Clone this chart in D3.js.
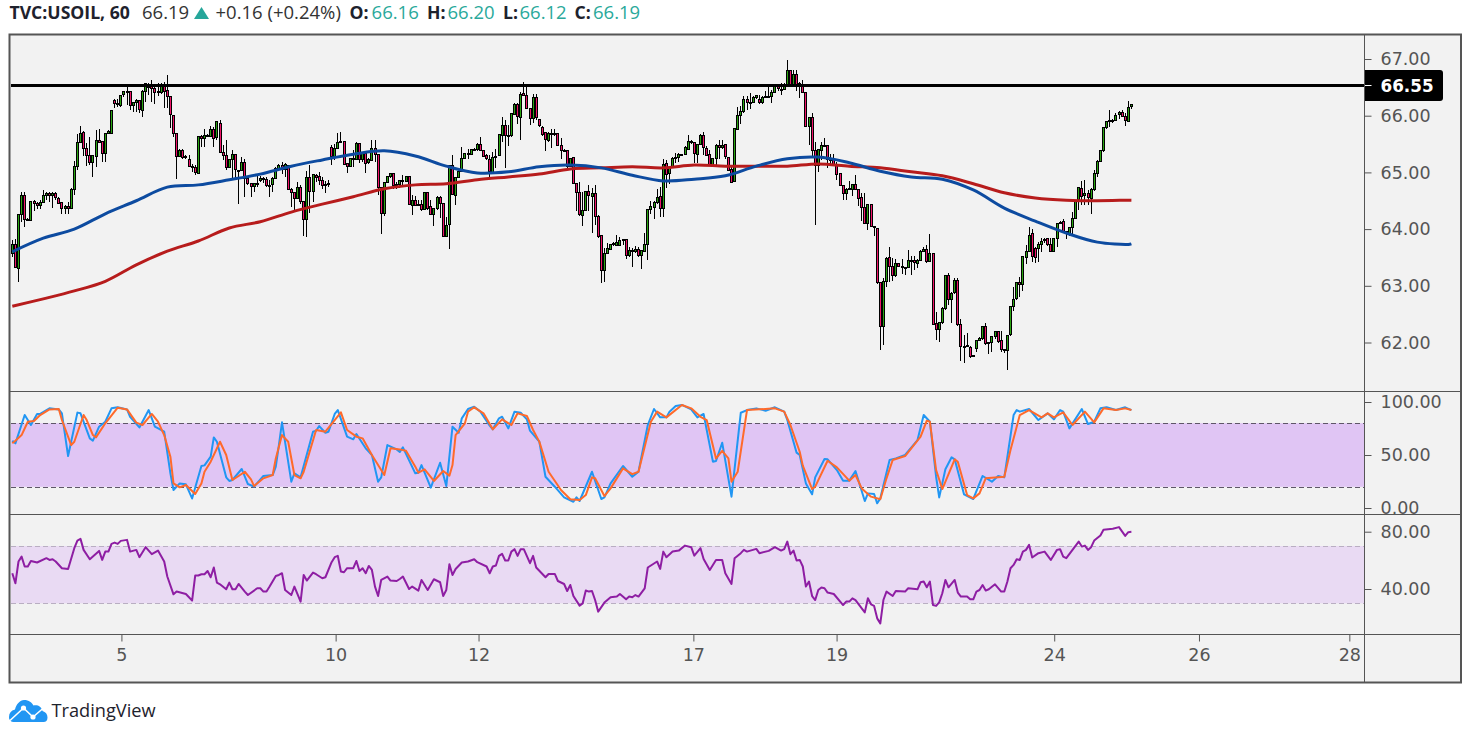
<!doctype html>
<html lang="en">
<head>
<meta charset="UTF-8">
<title>TVC:USOIL, 60</title>
<style>
  html, body { margin: 0; padding: 0; background: #fff; }
  svg { display: block; }
  .axis text { font-family: "DejaVu Sans", sans-serif; font-size: 17.5px; fill: #555; }
  .axis line { stroke: #555; }
  .head { font-family: "Open Sans", sans-serif; font-size: 18.5px; }
  .head.strong { font-size: 17.6px; font-weight: bold; }
</style>
</head>
<body>
<div id="chart"></div>
<script src="https://d3js.org/d3.v7.min.js"></script>
<script>
// values
const priceTicks = [62, 63, 64, 65, 66, 67]
const stochTicks = [0, 50, 100]
const rsiTicks = [40, 80]
const dayTicks = [35.2, 104.3, 150.4, 219.7, 265.9, 336.1, 382.8, 431.3]
const dayLabels = ['5', '10', '12', '17', '19', '24', '26', '28']
const levelPrice = 66.55
const stochBand = [20, 80]
const rsiBand = [30, 70]

// open, high, low, close per hourly bar
const ohlc = [
[63.57,63.80,63.51,63.72],[63.72,63.83,63.32,63.32],[63.30,64.26,63.07,64.26],[64.26,64.66,64.13,64.60],[64.60,64.66,64.03,64.17],[64.17,64.20,64.15,64.16],[64.16,64.50,64.15,64.49],[64.49,64.51,64.32,64.45],[64.45,64.48,64.36,64.42],[64.42,64.51,64.35,64.47],
[64.47,64.69,64.46,64.60],[64.60,64.66,64.51,64.63],[64.63,64.66,64.48,64.60],[64.60,64.66,64.38,64.63],[64.63,64.66,64.51,64.56],[64.54,64.56,64.44,64.46],[64.47,64.48,64.27,64.36],[64.36,64.42,64.26,64.39],[64.39,64.48,64.27,64.36],[64.36,64.73,64.35,64.70],
[64.70,65.20,64.60,65.11],[65.11,65.67,65.05,65.53],[65.53,65.82,65.52,65.69],[65.71,65.73,65.29,65.42],[65.42,65.51,65.11,65.29],[65.29,65.63,65.13,65.16],[65.16,65.30,64.92,65.29],[65.29,65.74,65.10,65.57],[65.57,65.76,65.52,65.54],[65.54,65.55,65.19,65.33],
[65.33,65.69,65.19,65.69],[65.69,65.74,65.67,65.72],[65.70,66.10,65.70,66.10],[66.27,66.30,66.14,66.22],[66.22,66.29,66.16,66.20],[66.19,66.36,66.16,66.36],[66.36,66.44,66.33,66.42],[66.42,66.52,66.19,66.41],[66.43,66.43,66.10,66.18],[66.18,66.24,66.07,66.23],
[66.23,66.30,66.07,66.26],[66.26,66.28,66.05,66.10],[66.10,66.46,65.98,66.43],[66.43,66.58,66.24,66.57],[66.50,66.58,66.36,66.55],[66.55,66.63,66.24,66.48],[66.48,66.51,66.21,66.41],[66.41,66.57,66.34,66.42],[66.41,66.57,66.39,66.52],[66.52,66.60,66.14,66.44],
[66.44,66.72,66.13,66.33],[66.33,66.33,65.79,66.01],[66.01,66.01,65.62,65.69],[65.69,65.69,64.89,65.29],[65.29,65.41,65.27,65.39],[65.39,65.41,65.24,65.27],[65.27,65.30,65.24,65.28],[65.23,65.30,65.09,65.10],[65.10,65.15,65.01,65.08],[65.08,65.13,64.95,64.99],
[64.99,65.64,64.98,65.64],[65.64,65.66,65.45,65.60],[65.60,65.77,65.45,65.65],[65.65,65.67,65.62,65.64],[65.64,65.82,65.62,65.76],[65.76,65.80,65.45,65.60],[65.60,65.90,65.57,65.89],[65.87,65.93,65.35,65.35],[65.35,65.48,65.22,65.29],[65.29,65.57,65.04,65.08],
[65.08,65.22,65.07,65.22],[65.22,65.39,64.86,65.31],[65.31,65.31,64.86,65.04],[65.04,65.05,64.45,65.03],[65.03,65.27,65.02,65.17],[65.17,65.23,64.57,64.89],[64.89,64.89,64.78,64.80],[64.80,64.81,64.57,64.74],[64.74,64.81,64.66,64.80],[64.80,64.95,64.75,64.81],
[64.87,64.93,64.83,64.90],[64.89,64.92,64.82,64.89],[64.87,64.92,64.75,64.77],[64.77,64.86,64.57,64.76],[64.78,64.92,64.66,64.89],[64.89,65.09,64.88,65.07],[65.07,65.14,65.05,65.12],[65.12,65.19,64.97,65.05],[65.05,65.16,64.92,65.14],[65.12,65.12,64.69,64.70],
[64.70,64.72,64.39,64.64],[64.64,64.66,64.33,64.54],[64.54,64.83,64.54,64.73],[64.73,64.78,64.45,64.48],[64.48,64.48,63.87,64.17],[64.17,65.03,63.86,64.91],[64.91,65.13,64.29,64.66],[64.66,64.98,64.48,64.96],[64.95,64.97,64.83,64.91],[64.92,65.01,64.77,64.85],
[64.85,64.92,64.71,64.77],[64.77,64.85,64.64,64.79],[64.79,64.86,64.75,64.81],[65.44,65.49,65.13,65.29],[65.29,65.50,65.22,65.43],[65.43,65.69,65.42,65.53],[65.53,65.71,65.52,65.55],[65.55,65.56,65.14,65.14],[65.16,65.17,64.99,65.11],[65.10,65.25,65.09,65.24],
[65.24,65.39,65.10,65.25],[65.23,65.53,65.22,65.51],[65.51,65.51,65.17,65.23],[65.23,65.34,65.19,65.33],[65.33,65.36,64.99,65.16],[65.16,65.25,65.14,65.22],[65.20,65.57,65.20,65.42],[65.42,65.57,65.19,65.32],[65.32,65.32,64.61,64.73],[64.73,64.75,63.91,64.27],
[64.28,64.82,64.23,64.82],[64.82,64.92,64.81,64.92],[64.92,64.98,64.91,64.98],[64.98,64.98,64.70,64.77],[64.77,64.83,64.70,64.78],[64.78,64.86,64.72,64.85],[64.85,64.95,64.77,64.86],[64.85,64.94,64.84,64.93],[64.93,64.93,64.42,64.43],[64.43,64.60,64.24,64.51],
[64.51,64.58,64.42,64.43],[64.43,64.52,64.40,64.44],[64.44,64.51,64.32,64.35],[64.35,64.65,64.33,64.65],[64.65,64.66,64.33,64.36],[64.40,64.51,64.25,64.26],[64.26,64.38,64.06,64.36],[64.36,64.58,64.34,64.56],[64.56,64.58,64.19,64.46],[64.46,64.46,63.86,63.87],
[63.87,64.22,63.86,64.06],[64.08,65.12,63.65,65.12],[65.12,65.30,64.60,64.60],[64.60,64.91,64.42,64.91],[64.91,65.04,64.90,65.01],[65.01,65.44,65.00,65.24],[65.24,65.34,65.23,65.33],[65.33,65.42,65.24,65.32],[65.32,65.42,65.30,65.40],[65.40,65.43,65.38,65.41],
[65.40,65.51,65.38,65.49],[65.49,65.62,65.38,65.38],[65.39,65.40,65.29,65.29],[65.29,65.33,65.22,65.23],[65.23,65.31,64.92,65.01],[65.01,65.36,64.99,65.27],[65.27,65.42,65.07,65.28],[65.29,65.66,65.29,65.66],[65.66,65.98,65.54,65.83],[65.83,65.92,65.07,65.65],
[65.65,65.83,65.46,65.65],[65.65,66.04,65.62,66.03],[66.01,66.22,66.01,66.19],[66.19,66.22,65.85,65.98],[65.98,66.41,65.57,66.38],[66.40,66.59,66.34,66.36],[66.36,66.51,66.11,66.13],[66.13,66.13,65.83,65.95],[65.95,66.39,65.87,66.32],[66.32,66.39,65.93,65.97],
[65.93,65.95,65.80,65.83],[65.79,65.82,65.64,65.66],[65.70,65.71,65.38,65.57],[65.57,65.71,65.54,65.69],[65.69,65.77,65.43,65.67],[65.67,65.76,65.64,65.68],[65.68,65.69,65.46,65.47],[65.47,65.60,65.23,65.39],[65.39,65.42,65.37,65.39],[65.39,65.39,65.07,65.10],
[65.10,65.25,65.09,65.24],[65.26,65.26,64.79,64.80],[64.80,64.80,64.32,64.64],[64.64,64.83,64.23,64.25],[64.25,64.65,64.06,64.33],[64.33,64.68,64.32,64.67],[64.67,64.77,64.32,64.60],[64.57,64.72,63.93,64.63],[64.63,64.78,64.07,64.23],[64.23,64.24,63.85,63.88],
[63.88,63.88,63.05,63.27],[63.27,63.66,63.07,63.57],[63.57,63.76,63.56,63.65],[63.65,63.74,63.63,63.73],[63.73,63.77,63.70,63.75],[63.72,63.89,63.70,63.77],[63.71,63.86,63.70,63.80],[63.80,63.83,63.72,63.81],[63.82,63.82,63.47,63.53],[63.53,63.69,63.51,63.62],
[63.62,63.66,63.34,63.60],[63.60,63.70,63.58,63.64],[63.64,63.69,63.51,63.54],[63.54,63.64,63.29,63.63],[63.61,63.93,63.60,63.73],[63.73,64.36,63.45,64.35],[64.35,64.50,64.27,64.40],[64.39,64.50,64.18,64.47],[64.47,64.70,64.45,64.56],[64.58,64.74,64.22,64.36],
[64.36,65.23,64.22,65.14],[65.16,65.22,64.73,64.96],[64.98,65.11,64.79,65.09],[65.09,65.28,65.07,65.24],[65.24,65.34,65.16,65.26],[65.26,65.34,65.19,65.31],[65.31,65.33,65.29,65.31],[65.31,65.46,65.30,65.44],[65.40,65.66,65.39,65.54],[65.54,65.57,65.50,65.53],
[65.53,65.54,65.16,65.33],[65.33,65.50,65.16,65.50],[65.50,65.67,65.48,65.65],[65.65,65.71,65.30,65.43],[65.43,65.46,65.29,65.30],[65.31,65.40,65.11,65.12],[65.12,65.25,65.11,65.24],[65.24,65.50,65.09,65.47],[65.47,65.58,65.24,65.44],[65.44,65.57,65.41,65.48],
[65.49,65.49,65.24,65.27],[65.27,65.27,65.03,65.04],[65.05,65.11,64.81,64.82],[64.84,65.77,64.83,65.77],[65.76,66.16,65.75,66.01],[66.01,66.17,65.85,66.08],[66.06,66.35,66.04,66.28],[66.28,66.34,66.10,66.23],[66.23,66.40,66.11,66.24],[66.24,66.34,66.22,66.32],
[66.32,66.36,66.30,66.36],[66.29,66.37,66.21,66.23],[66.23,66.34,66.21,66.32],[66.32,66.44,66.31,66.33],[66.33,66.51,66.32,66.34],[66.34,66.45,66.23,66.41],[66.41,66.53,66.40,66.51],[66.51,66.54,66.43,66.47],[66.47,66.57,66.37,66.46],[66.47,66.57,66.45,66.55],
[66.55,66.98,66.54,66.80],[66.80,66.81,66.55,66.56],[66.56,66.81,66.55,66.73],[66.73,66.81,66.43,66.55],[66.55,66.60,66.31,66.56],[66.55,66.63,66.41,66.41],[66.41,66.41,65.80,65.81],[65.81,65.96,65.48,65.96],[65.96,66.05,65.27,65.38],[65.38,65.54,64.07,65.11],
[65.11,65.40,65.00,65.40],[65.38,65.54,65.22,65.47],[65.47,65.60,65.45,65.46],[65.48,65.48,65.07,65.23],[65.23,65.33,65.13,65.22],[65.23,65.33,65.11,65.13],[65.13,65.19,64.87,64.97],[64.98,64.98,64.76,64.77],[64.77,64.78,64.51,64.63],[64.63,64.72,64.51,64.70],
[64.70,64.84,64.69,64.71],[64.70,64.79,64.58,64.78],[64.78,64.95,64.69,64.70],[64.70,64.71,64.41,64.55],[64.55,64.63,64.15,64.37],[64.38,64.63,64.09,64.09],[64.09,64.43,63.98,64.43],[64.43,64.45,64.04,64.04],[64.04,64.05,63.88,64.03],[64.01,64.01,63.03,63.05],
[63.05,63.05,61.86,62.28],[62.28,63.13,61.96,63.07],[63.07,63.50,62.98,63.48],[63.50,63.69,63.07,63.34],[63.34,63.49,63.09,63.18],[63.18,63.47,63.16,63.40],[63.40,63.41,63.33,63.34],[63.34,63.47,63.21,63.33],[63.33,63.34,63.19,63.32],[63.32,63.63,63.31,63.44],
[63.44,63.52,63.19,63.45],[63.44,63.52,63.28,63.40],[63.40,63.47,63.31,63.45],[63.45,63.63,63.44,63.61],[63.61,63.69,63.60,63.64],[63.64,63.72,63.41,63.43],[63.43,63.91,63.42,63.57],[63.57,63.57,62.30,62.32],[62.33,62.54,62.05,62.23],[62.23,62.36,62.01,62.35],
[62.35,62.62,62.32,62.60],[62.60,63.19,62.58,63.18],[63.18,63.22,62.66,62.76],[62.76,62.89,62.34,62.87],[62.87,63.13,62.85,63.09],[63.09,63.13,62.29,62.31],[62.31,62.42,61.68,61.93],[61.93,62.13,61.64,61.92],[61.92,62.16,61.92,61.94],[61.92,61.93,61.72,61.77],
[61.77,61.78,61.76,61.77],[61.90,62.04,61.84,62.04],[62.04,62.09,62.03,62.07],[62.07,62.29,62.05,62.28],[62.28,62.34,61.95,61.98],[61.98,62.00,61.79,62.00],[62.00,62.11,61.83,62.10],[62.10,62.20,62.07,62.19],[62.19,62.21,62.00,62.01],[62.03,62.21,61.83,61.87],
[61.87,61.88,61.82,61.86],[61.87,62.14,61.51,62.13],[62.13,62.63,62.11,62.63],[62.63,62.98,62.56,62.76],[62.76,63.05,62.75,63.05],[63.05,63.16,62.80,63.02],[63.02,63.52,62.90,63.52],[63.51,63.72,63.39,63.61],[63.61,64.04,63.60,63.89],[63.92,64.01,63.42,63.51],
[63.66,63.69,63.40,63.50],[63.66,63.77,63.42,63.73],[63.73,63.84,63.60,63.79],[63.79,63.85,63.76,63.81],[63.83,63.85,63.71,63.72],[63.73,63.84,63.60,63.60],[63.60,63.83,63.59,63.83],[63.83,64.11,63.69,64.10],[64.10,64.15,64.09,64.12],[64.13,64.17,63.94,63.95],
[63.95,63.97,63.82,63.91],[63.91,64.04,63.88,64.03],[64.03,64.31,63.88,64.19],[64.20,64.52,64.19,64.51],[64.51,64.75,64.33,64.73],[64.72,64.85,64.42,64.58],[64.58,64.86,64.42,64.62],[64.62,64.69,64.42,64.55],[64.54,64.72,64.26,64.69],[64.69,65.05,64.68,64.98],
[64.98,65.21,64.92,65.19],[65.19,65.38,65.18,65.38],[65.38,65.80,65.36,65.79],[65.80,65.91,65.77,65.90],[65.90,66.10,65.80,65.91],[65.91,65.95,65.88,65.92],[65.92,66.04,65.91,66.01],[66.01,66.09,65.95,66.05],[66.05,66.10,65.97,65.98],[65.98,66.05,65.82,65.91],
[65.91,66.26,65.91,66.15],[66.16,66.20,66.12,66.19]
]

// moving averages, read every ten bars
const maBars = [0,10,20,30,40,50,60,70,80,90,100,110,120,130,140,150,160,170,180,190,200,210,220,230,240,250,260,270,280,290,300,310,320,330,340,350,360,361]
const blueMa = [63.60,63.84,64.00,64.27,64.50,64.74,64.78,64.87,64.97,65.11,65.22,65.32,65.38,65.29,65.11,64.99,65.01,65.10,65.13,65.08,64.95,64.85,64.88,64.94,65.11,65.24,65.27,65.17,65.02,64.92,64.88,64.69,64.37,64.14,63.93,63.77,63.73,63.74]
const redMa = [62.64,62.77,62.91,63.08,63.37,63.61,63.79,64.02,64.13,64.30,64.44,64.57,64.71,64.78,64.80,64.87,64.92,64.97,65.06,65.08,65.10,65.08,65.13,65.11,65.11,65.11,65.15,65.11,65.08,65.01,64.94,64.80,64.64,64.55,64.51,64.50,64.51,64.51]

// [bar, value]
const stochK = [[0,63.5],[1,61],[4,87.7],[6,78.3],[8,88.7],[9,88.7],[12,94],[15,93],[16,89.3],[18,49],[21,90],[22,89.3],[25,65.7],[26,63.5],[28,76.7],[30,81.4],[32,94],[34,95],[37,93],[38,86],[41,76],[44,92.4],[46,76.7],[49,72],[51,32.7],[52,17],[54,23.2],[56,22.3],[58,9],[61,39.6],[62,40.2],[64,48.4],[65,66.6],[66,62.5],[69,28.9],[70,25.5],[71,26.4],[74,36.8],[76,22.6],[78,20.1],[81,30.2],[84,31.1],[85,39],[86,59.4],[87,80.8],[90,24.8],[91,32.7],[93,28.9],[97,72],[98,72.9],[99,77.3],[101,71],[102,72],[104,88.7],[105,92.4],[108,67.3],[110,64.8],[111,69.8],[114,56.3],[116,50],[118,24.8],[119,28.9],[121,59.4],[124,55.3],[125,52.8],
[126,57.2],[130,32.7],[131,33.3],[132,40.5],[135,19.2],[138,42.7],[140,20.7],[142,76.7],[144,71],[145,84.6],[147,93.4],[149,95.6],[151,90.9],[154,77.7],[155,74.2],[157,84.6],[158,86.1],[160,75.1],[162,90.9],[164,89.9],[166,83.6],[167,72.9],[170,62.6],[172,29.5],[175,20.1],[178,10],[181,5.9],[182,10],[183,6.6],[187,34.2],[190,8.5],[191,10],[193,23.2],[197,39.6],[200,29.5],[202,34.2],[205,78.3],[207,93.4],[209,85.5],[211,85.5],[212,90.9],[214,96.2],[216,97.2],[219,93],[221,85.5],[223,88.7],[226,43.7],[227,44.3],[229,61.6],[232,10.7],[235,89.9],[237,92.4],[240,94],[243,91.8],[246,95],[249,90.9],[250,83],[253,52.2],[254,50],
[256,23.2],[258,12.9],[259,28.9],[262,46.2],[263,45.9],[266,35.8],[268,25.8],[270,25.8],[272,34.9],[275,6.6],[276,13.8],[278,13.2],[279,4.4],[280,9.1],[283,45.3],[285,46.8],[288,50],[292,64.1],[294,87.7],[296,81.4],[298,29.5],[299,10],[301,36.5],[303,47.8],[304,45.9],[307,12.9],[310,8.5],[313,30.2],[316,24.8],[318,30.2],[320,28.9],[323,87.7],[324,92.4],[325,90.9],[328,93.4],[331,83],[334,89.3],[336,83.6],[338,92.4],[339,90.9],[341,75.1],[345,93.4],[347,79.2],[349,81.4],[351,94],[353,95],[356,92.4],[359,95],[361,92.4]]
const stochD = [[0,61],[1,63.5],[3,68.8],[5,81.4],[7,82],[9,87.7],[12,93],[15,93.4],[16,83],[19,59.4],[20,62.5],[23,87.7],[24,83],[26,68.8],[27,66.6],[30,79.9],[34,94.6],[37,93],[40,80.5],[42,78.3],[45,88.7],[47,81.4],[49,68.8],[51,48.4],[52,23.2],[54,19.5],[56,21.7],[59,13.2],[61,23.2],[62,34.2],[64,43.7],[67,62.5],[69,50],[71,26.4],[73,30.2],[75,34.2],[77,27],[78,20.7],[81,28],[84,31.1],[85,46.8],[87,68.8],[89,62.5],[91,31.1],[93,28],[94,34.2],[98,73.6],[101,72],[104,83],[106,90.2],[108,73.6],[111,67.3],[113,65.7],[116,50],[120,31.1],[122,56.3],[125,55.3],
[127,54],[130,39],[131,33.3],[133,36.5],[136,25.5],[139,34.9],[141,30.5],[142,40.5],[143,68.8],[146,79.9],[147,90.9],[149,95],[152,89.3],[155,74.2],[158,83.6],[161,78.3],[163,89.3],[166,86.8],[168,73.6],[170,62.6],[173,34.2],[177,17],[180,8.2],[183,7.5],[185,12.2],[187,28.9],[188,28],[191,11.3],[193,18.5],[197,37.4],[200,32],[202,34.2],[206,81.4],[208,90.9],[211,85.5],[216,97.2],[219,94],[222,86],[224,83],[227,46.8],[229,54],[231,46.8],[232,24.8],[234,34.2],[237,92.4],[246,94],[249,90.9],[251,78.3],[254,53.1],[255,40],
[258,17.9],[259,20.1],[263,44.6],[266,38.3],[270,25.8],[272,31.1],[274,18.5],[277,10.7],[280,8.2],[282,28],[284,45.3],[288,49],[293,67.3],[295,82.4],[296,81.4],[298,35.8],[300,17.9],[304,45.9],[305,43.7],[308,12.2],[310,9.1],[312,13.8],[314,28],[320,29.5],[322,54.7],[325,87.7],[328,92.4],[332,85.5],[334,89.3],[336,85.5],[339,90.2],[342,78.3],[346,90.9],[349,80.8],[352,94],[356,92.4],[359,94],[361,92.4]]
const rsiLine = [[0,51],[1,44],[2,59.2],[3,62.6],[4,55.7],[5,55.7],[6,59.6],[8,58.5],[11,61.5],[12,60.3],[13,60.8],[14,59.2],[16,54.5],[18,54],[20,68.5],[21,73.8],[22,75],[23,67.3],[25,60.8],[28,66.6],[29,60.3],[30,66.1],[31,66.1],[32,71.5],[33,72.4],[34,71.5],[35,73.6],[37,74.3],[38,66.1],[40,67.3],[41,62.2],[43,69.2],[45,64.3],[47,66.8],[49,59.2],[50,48.7],[52,36.3],[53,38.2],[56,36.5],[57,34.2],[58,31.9],[59,49.4],[60,49.4],[61,50.3],[62,50.3],[63,52.6],[64,48.2],[65,55],[66,44.5],[67,43.3],[69,39.8],[70,44.5],[71,39.8],[72,39.8],[73,43.5],[75,38.2],[76,35.8],[79,40.5],[80,40.5],[81,38.2],[82,38.2],[83,41.7],[85,49.1],[86,49.8],[87,51],[88,39.3],[90,35.8],[91,41.7],[93,31.2],[94,49.8],[95,45.9],[97,51.5],[98,50.3],[100,47.5],[101,48.2],[103,58.7],[104,62.2],[105,63.1],[106,52.2],[107,51.7],[108,54.5],[110,54.5],[111,59.6],[112,52.6],[113,54.5],[114,51],[115,56.1],[116,53.3],[117,41.7],[118,35.1],[119,46.3],[121,48.7],[122,45.9],[124,45.6],[125,47],
[126,48.7],[128,40],[129,41.7],[131,38.9],[132,46.3],[134,39.3],[136,46.8],[138,44.7],[139,35.1],[140,39.3],[141,57.3],[142,49.8],[143,54],[145,58.5],[147,59.2],[149,60.8],[150,58.7],[153,55.7],[154,51],[155,55.7],[156,56.4],[157,63.1],[158,64.5],[159,59.9],[160,59.9],[161,66.1],[162,67.8],[163,63.1],[164,67.8],[165,67.8],[167,58],[168,63.1],[169,55],[172,48.2],[173,50.5],[175,50.5],[176,45.6],[178,43.5],[179,38.6],[180,42.8],[181,35.1],[183,28.4],[184,30],[185,38.9],[186,38.2],[187,38.6],[188,32.3],[189,24.2],[191,30.5],[193,34.2],[195,34.7],[196,36.5],[198,32.8],[199,34.7],[200,34.2],[201,35.8],[202,34.7],[204,40.5],[205,55],[208,59.2],[209,54],[210,66.1],[211,62.2],[213,66.1],[215,66.8],[217,70.3],[219,69.2],[220,63.3],[222,68.5],[223,61],[225,53.3],[227,60.3],[229,60.3],[230,51],[232,43.5],[233,61.5],[235,65],[236,67.3],[237,66.1],[240,68],[241,65],[244,66.6],[246,69.2],[248,66.8],[249,67.8],[250,73.1],[251,64.3],[252,66.8],[253,59.9],[254,60.3],
[255,55.7],[256,41.7],[257,45.2],[258,35.1],[259,32.3],[260,39.3],[261,41],[262,40.5],[263,37.5],[265,36.5],[268,28.8],[269,31.2],[270,31.2],[271,33.5],[272,32.3],[275,23.7],[276,33.5],[277,29.3],[278,28.2],[279,19.5],[280,16],[281,32.3],[282,38.2],[284,35.1],[285,38.6],[288,38.2],[289,40.5],[292,39.8],[293,44.7],[294,45.2],[295,41.2],[296,45.2],[297,28.8],[298,28.2],[299,30.7],[300,37],[301,46.3],[302,41.2],[304,46.3],[305,37.5],[306,34.7],[308,34.7],[309,32.8],[310,32.8],[311,38.2],[312,39.3],[313,42.8],[314,38.9],[315,39.8],[317,43.3],[319,38.2],[320,38.2],[321,45.2],[322,54.5],[323,56.8],[324,60.8],[325,60.3],[326,66.1],[327,67.3],[328,70.8],[329,62],[331,65],[333,66.1],[335,60.3],[337,67.3],[338,67.8],[339,62.6],[340,61.5],[342,67.3],[344,73.1],[345,69.6],[346,70.3],[347,67.3],[348,69.2],[349,73.8],[351,77.3],[352,81.3],[355,82],[357,83.2],[359,77.1],[360,79.7],[361,79.9]]

const width = 1471
const height = 738
const plotLeft = 11
const plotRight = 1364
const frameRight = 1461
const frameTop = 34.5
const frameBottom = 682.5
const pane1Bottom = 391.5
const pane2Bottom = 514.5
const pane3Bottom = 634.5

const x = d3.scaleLinear().domain([0, 361]).range([12.3, 1131.4])
const yPrice = d3.scaleLinear().domain([62, 67]).range([342.5, 59])
const yStoch = d3.scaleLinear().domain([0, 100]).range([508, 402])
const yRsi = d3.scaleLinear().domain([40, 80]).range([589, 531.7])

const svg = d3.select('#chart').append('svg')
  .attr('width', width)
  .attr('height', height)

const defs = svg.append('defs')
const addClip = (id, x0, y0, x1, y1) => defs.append('clipPath').attr('id', id)
  .append('rect').attr('x', x0).attr('y', y0).attr('width', x1 - x0).attr('height', y1 - y0)
addClip('clip-price', plotLeft, frameTop, plotRight, pane1Bottom)
addClip('clip-stoch', plotLeft, pane1Bottom, frameRight, pane2Bottom)
addClip('clip-rsi', plotLeft, pane2Bottom, frameRight, pane3Bottom)
addClip('clip-axis-stoch', plotRight, pane1Bottom + 0.5, frameRight, pane2Bottom - 0.5)
addClip('clip-axis-rsi', plotRight, pane2Bottom + 0.5, frameRight, pane3Bottom - 0.5)

// frame background
svg.append('rect')
  .attr('x', 9.5).attr('y', frameTop)
  .attr('width', frameRight - 9.5).attr('height', frameBottom - frameTop)
  .attr('fill', '#f2f2f2')

// bands
const stochG = svg.append('g').attr('clip-path', 'url(#clip-stoch)')
const rsiG = svg.append('g').attr('clip-path', 'url(#clip-rsi)')

const drawBand = (g, y, band, fill, dash) => {
  g.append('rect')
    .attr('x', plotLeft).attr('width', plotRight - plotLeft)
    .attr('y', y(band[1])).attr('height', y(band[0]) - y(band[1]))
    .attr('fill', fill)
  band.forEach(v => {
    g.append('line')
      .attr('x1', plotLeft).attr('x2', plotRight)
      .attr('y1', Math.round(y(v)) + 0.5).attr('y2', Math.round(y(v)) + 0.5)
      .attr('stroke', dash)
      .attr('stroke-dasharray', '5 3')
  })
}
drawBand(stochG, yStoch, stochBand, '#e0c5f4', '#5f5668')
drawBand(rsiG, yRsi, rsiBand, '#e9daf3', '#b9aec2')

const drawOsc = (g, y, rows, color, w) => {
  g.append('path')
    .datum(rows)
    .attr('fill', 'none')
    .attr('stroke', color)
    .attr('stroke-width', w)
    .attr('stroke-linejoin', 'round')
    .attr('d', d3.line().x(d => x(d[0])).y(d => y(d[1])))
}
drawOsc(stochG, yStoch, stochK, '#2196f3', 2)
drawOsc(stochG, yStoch, stochD, '#ff6a2b', 2)
drawOsc(rsiG, yRsi, rsiLine, '#8e1ea3', 2)

// candles
const priceG = svg.append('g').attr('clip-path', 'url(#clip-price)')

const snap = v => Math.floor(v) + 0.5

priceG.append('g').selectAll('line')
  .data(ohlc)
  .join('line')
  .attr('x1', (d, i) => snap(x(i)))
  .attr('x2', (d, i) => snap(x(i)))
  .attr('y1', d => yPrice(d[1]))
  .attr('y2', d => yPrice(d[2]))
  .attr('stroke', '#000')
  .attr('shape-rendering', 'crispEdges')

priceG.append('g').selectAll('rect')
  .data(ohlc)
  .join('rect')
  .attr('x', (d, i) => snap(x(i)) - 1)
  .attr('width', 2)
  .attr('y', d => snap(yPrice(Math.max(d[0], d[3]))))
  .attr('height', d => Math.max(1, Math.round(Math.abs(yPrice(d[0]) - yPrice(d[3])))))
  .attr('fill', d => d[3] >= d[0] ? '#2aa512' : '#f0146a')
  .attr('stroke', '#000')
  .attr('shape-rendering', 'crispEdges')

// moving averages
const maLine = d3.line()
  .x((d, i) => x(maBars[i]))
  .y(d => yPrice(d))
  .curve(d3.curveCatmullRom)

priceG.append('path').datum(redMa)
  .attr('fill', 'none').attr('stroke', '#b71c1c').attr('stroke-width', 3).attr('d', maLine)
priceG.append('path').datum(blueMa)
  .attr('fill', 'none').attr('stroke', '#0d4ba0').attr('stroke-width', 3).attr('d', maLine)

// horizontal level
const levelY = Math.round(yPrice(levelPrice)) + 0.5
priceG.append('line')
  .attr('x1', plotLeft).attr('x2', plotRight)
  .attr('y1', levelY).attr('y2', levelY)
  .attr('stroke', '#000').attr('stroke-width', 3)

// pane separators and frame
const border = '#555'
;[pane1Bottom, pane2Bottom, pane3Bottom].forEach(y => {
  svg.append('line')
    .attr('x1', 9.5).attr('x2', frameRight)
    .attr('y1', y).attr('y2', y)
    .attr('stroke', border)
})
svg.append('line')
  .attr('x1', plotRight + 0.5).attr('x2', plotRight + 0.5)
  .attr('y1', frameTop).attr('y2', frameBottom)
  .attr('stroke', border)
svg.append('rect')
  .attr('x', 9.5).attr('y', frameTop)
  .attr('width', frameRight - 9.5).attr('height', frameBottom - frameTop)
  .attr('fill', 'none')
  .attr('stroke', border)
  .attr('stroke-width', 2)

// axes, stoch and rsi labels get cut by the pane lines
const rightAxis = (parent, scale, values) => {
  const g = parent.append('g')
    .attr('class', 'axis')
    .attr('transform', `translate(${plotRight + 0.5},0)`)
    .call(d3.axisRight(scale).tickValues(values).tickSize(7).tickPadding(9).tickFormat(d3.format('.2f')))
  g.select('.domain').remove()
}
rightAxis(svg, yPrice, priceTicks)
rightAxis(svg.append('g').attr('clip-path', 'url(#clip-axis-stoch)'), yStoch, stochTicks)
rightAxis(svg.append('g').attr('clip-path', 'url(#clip-axis-rsi)'), yRsi, rsiTicks)

const dayAxis = svg.append('g')
  .attr('class', 'axis')
  .attr('transform', `translate(0,${pane3Bottom})`)
  .call(d3.axisBottom(x).tickValues(dayTicks).tickSize(7).tickPadding(7)
    .tickFormat((d, i) => dayLabels[i]))
dayAxis.select('.domain').remove()

// level price tag
svg.append('path')
  .attr('d', `M${plotRight + 1},${levelY - 15.5}H1440a3,3 0 0 1 3,3V${levelY + 12.5}a3,3 0 0 1 -3,3H${plotRight + 1}Z`)
  .attr('fill', '#000')
svg.append('line')
  .attr('x1', plotRight + 1).attr('x2', plotRight + 7.5)
  .attr('y1', levelY).attr('y2', levelY)
  .attr('stroke', '#fff')
svg.append('text')
  .attr('x', plotRight + 16.5)
  .attr('y', levelY)
  .attr('dy', '0.36em')
  .attr('fill', '#fff')
  .attr('font-family', '"DejaVu Sans", sans-serif')
  .attr('font-size', '16.8px')
  .attr('font-weight', 'bold')
  .text(levelPrice.toFixed(2))

// header
const headItems = [
  [9.5, 'TVC:USOIL, 60', '#1e222d', true],
  [142, '66.19', '#333', false],
  [215.5, '+0.16 (+0.24%)', '#333', false],
  [349.5, 'O:', '#1e222d', true],
  [371.6, '66.16', '#2aa99b', false],
  [427, 'H:', '#1e222d', true],
  [447.5, '66.20', '#2aa99b', false],
  [503, 'L:', '#1e222d', true],
  [519.5, '66.12', '#2aa99b', false],
  [574.6, 'C:', '#1e222d', true],
  [593, '66.19', '#2aa99b', false]
]
svg.append('g').selectAll('text')
  .data(headItems)
  .join('text')
  .attr('class', d => d[3] ? 'head strong' : 'head')
  .attr('x', d => d[0])
  .attr('y', 18.5)
  .attr('fill', d => d[2])
  .text(d => d[1])
svg.append('path')
  .attr('d', 'M194,19L201.5,7L209,19Z')
  .attr('fill', '#26a69a')

// logo
const logo = svg.append('g')
logo.append('path')
  .attr('d', 'M13,722a4.5,4.5 0 0 1 -4,-5c0,-4 2,-6.5 6,-7.5c1,-5 5,-9.5 9,-9.5c5,0 8,2.5 9.5,5.5c4,-1 8,1 9,5.5c3,1 5,3 5,6.5c0,3 -1.5,4.5 -4,4.5Z')
  .attr('fill', '#2196f3')
logo.append('path')
  .attr('d', 'M10,720.5L23.5,708L33,717L43.5,708')
  .attr('fill', 'none')
  .attr('stroke', '#fff')
  .attr('stroke-width', 1.6)
logo.append('circle').attr('cx', 23.5).attr('cy', 708).attr('r', 2.6).attr('fill', '#fff')
logo.append('circle').attr('cx', 33).attr('cy', 717).attr('r', 2.6).attr('fill', '#fff')
svg.append('text')
  .attr('x', 51.5).attr('y', 717)
  .attr('font-family', '"Open Sans", sans-serif')
  .attr('font-size', '18.2px')
  .attr('fill', '#1e222d')
  .text('TradingView')
</script>
</body>
</html>
